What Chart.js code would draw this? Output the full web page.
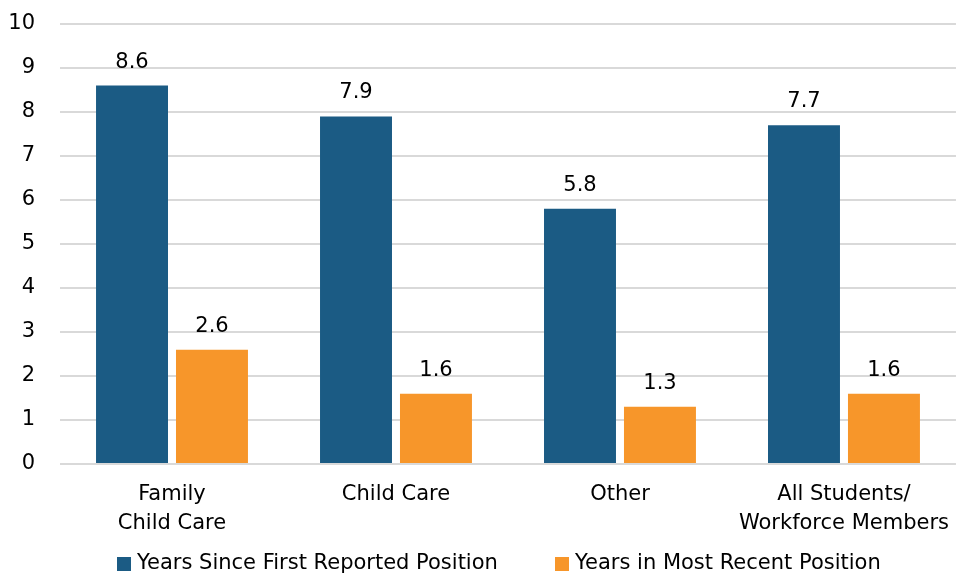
<!DOCTYPE html>
<html>
<head>
<meta charset="utf-8">
<script src="https://cdn.jsdelivr.net/npm/chart.js@4.4.1/dist/chart.umd.min.js"></script>
<style>
html,body{margin:0;padding:0;background:#fff;}
#wrap{width:957px;height:574px;position:relative;}
</style>
</head>
<body>
<div id="wrap"><canvas id="c" width="957" height="574"></canvas></div>
<script>
const categories = [["Family", "Child Care"], "Child Care", "Other", ["All Students/", "Workforce Members"]];
const seriesNames = ["Years Since First Reported Position", "Years in Most Recent Position"];
const firstPosition = [8.6, 7.9, 5.8, 7.7];
const recentPosition = [2.6, 1.6, 1.3, 1.6];
const yTicks = [0, 1, 2, 3, 4, 5, 6, 7, 8, 9, 10];

const FONT = "'DejaVu Sans', sans-serif";
const FS = 21;

const labelPlugin = {
  id: 'barLabels',
  afterDatasetsDraw(chart) {
    const ctx = chart.ctx;
    ctx.save();
    ctx.font = FS + "px " + FONT;
    ctx.fillStyle = "#000";
    ctx.textAlign = "center";
    ctx.textBaseline = "alphabetic";
    chart.data.datasets.forEach((ds, i) => {
      const meta = chart.getDatasetMeta(i);
      meta.data.forEach((bar, j) => {
        ctx.fillText(ds.data[j].toFixed(1), bar.x, bar.y - 18);
      });
    });
    ctx.restore();
  }
};

const legendPlugin = {
  id: 'bottomLegend',
  afterDraw(chart) {
    const ctx = chart.ctx;
    ctx.save();
    ctx.font = FS + "px " + FONT;
    ctx.textBaseline = "middle";
    ctx.textAlign = "left";
    const y = 564;
    const starts = [117, 555];
    chart.data.datasets.forEach((ds, i) => {
      const x = starts[i];
      ctx.fillStyle = ds.backgroundColor;
      ctx.fillRect(x, y - 7, 14, 14);
      ctx.fillStyle = "#000";
      ctx.fillText(ds.label, x + 20, y);
    });
    ctx.restore();
  }
};

new Chart(document.getElementById('c'), {
  type: 'bar',
  data: {
    labels: categories,
    datasets: [
      { label: seriesNames[0], data: firstPosition, backgroundColor: '#1b5b84', categoryPercentage: 0.714, barPercentage: 0.9 },
      { label: seriesNames[1], data: recentPosition, backgroundColor: '#f7962a', categoryPercentage: 0.714, barPercentage: 0.9 }
    ]
  },
  options: {
    responsive: false,
    animation: false,
    devicePixelRatio: 1,
    layout: { padding: { top: 24, right: -5, left: 0, bottom: 28 } },
    plugins: {
      tooltip: { enabled: false },
      legend: { display: false }
    },
    scales: {
      x: {
        grid: { display: false },
        border: { display: false },
        ticks: { font: { family: FONT, size: FS, lineHeight: 1.38 }, color: '#000', padding: 8, maxRotation: 0 }
      },
      y: {
        min: 0, max: 10,
        afterFit(scale) { scale.width = 60; scale.paddingTop = 0; },
        afterBuildTicks(scale) { scale.ticks = yTicks.map(v => ({ value: v })); },
        grid: { color: '#d9d9d9', lineWidth: 2, drawTicks: false },
        border: { display: false },
        ticks: { font: { family: FONT, size: FS }, color: '#000', padding: 25 }
      }
    }
  },
  plugins: [labelPlugin, legendPlugin]
});
</script>
</body>
</html>
